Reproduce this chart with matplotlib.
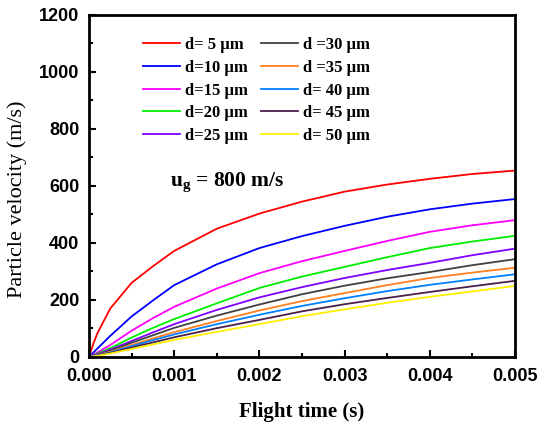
import matplotlib
matplotlib.use("Agg")
import matplotlib.pyplot as plt
from matplotlib.ticker import MultipleLocator, FormatStrFormatter

plt.rcParams['mathtext.fontset'] = 'custom'
plt.rcParams['mathtext.rm'] = 'Liberation Serif:bold'
plt.rcParams['mathtext.it'] = 'Liberation Serif:bold'
plt.rcParams['mathtext.bf'] = 'Liberation Serif:bold'

time_s = [0, 0.00005, 0.0001, 0.00025, 0.0005, 0.00075, 0.001, 0.0015, 0.002, 0.0025, 0.003, 0.0035, 0.004, 0.0045, 0.005]

v_5 = [0, 46, 84, 170, 260, 318, 372, 450, 503, 545, 580, 605, 625, 642, 654]
v_10 = [0, 15, 30, 74, 142, 198, 252, 325, 382, 424, 460, 492, 518, 538, 554]
v_15 = [0, 8, 16, 42, 92, 136, 176, 240, 294, 336, 372, 407, 439, 462, 480]
v_20 = [0, 6, 12, 31, 68, 102, 133, 188, 242, 282, 316, 350, 382, 405, 425]
v_25 = [0, 5, 10, 26, 56, 86, 115, 165, 209, 245, 277, 305, 330, 357, 380]
v_30 = [0, 4, 8, 22, 50, 76, 102, 145, 184, 220, 250, 276, 298, 322, 343]
v_35 = [0, 3, 7, 18, 42, 65, 87, 126, 163, 196, 224, 252, 277, 296, 313]
v_40 = [0, 3, 6, 16, 38, 59, 79, 115, 148, 179, 206, 231, 253, 272, 290]
v_45 = [0, 2, 5, 14, 33, 51, 69, 101, 130, 160, 185, 207, 228, 248, 267]
v_50 = [0, 2, 4, 12, 28, 44, 60, 88, 115, 143, 167, 190, 211, 230, 249]

series = [v_5, v_10, v_15, v_20, v_25, v_30, v_35, v_40, v_45, v_50]
labels = ["d= 5 μm", "d=10 μm", "d=15 μm", "d=20 μm", "d=25 μm",
          "d =30 μm", "d =35 μm", "d= 40 μm", "d= 45 μm", "d= 50 μm"]
colors = ["#ff0000", "#0000ff", "#ff00ff", "#00ee00", "#8000ff",
          "#404040", "#ff8020", "#0080ff", "#4a1f4a", "#ffee00"]

fig = plt.figure(figsize=(5.38, 4.28), dpi=100)
ax = fig.add_axes([0.1654, 0.166, 0.7916, 0.799])

for v, lab, c in zip(series, labels, colors):
    ax.plot(time_s, v, color=c, lw=1.3, label=lab)

ax.set_xlim(0, 0.005)
ax.set_ylim(0, 1200)
ax.xaxis.set_major_locator(MultipleLocator(0.001))
ax.xaxis.set_minor_locator(MultipleLocator(0.0005))
ax.yaxis.set_major_locator(MultipleLocator(200))
ax.yaxis.set_minor_locator(MultipleLocator(100))
ax.xaxis.set_major_formatter(FormatStrFormatter('%.3f'))
ax.tick_params(which='both', direction='in', top=False, right=False, width=1.5)
ax.tick_params(which='major', length=5, labelsize=13)
ax.tick_params(which='minor', length=3)
ax.tick_params(axis='x', which='major', pad=8)
ax.tick_params(axis='y', which='major', pad=7)
for lbl in ax.get_xticklabels() + ax.get_yticklabels():
    lbl.set_fontfamily('Liberation Sans')
    lbl.set_fontweight('bold')
for s in ax.spines.values():
    s.set_linewidth(2)

ax.set_xlabel("Flight time (s)", fontfamily='Liberation Serif', fontweight='bold', fontsize=15, labelpad=12)
ax.set_ylabel("Particle velocity (m/s)", fontfamily='Liberation Serif', fontsize=16, labelpad=4)
ax.yaxis.set_label_coords(-0.145, 0.46)

leg = ax.legend(ncol=2, loc='upper left', bbox_to_anchor=(0.127, 0.935), frameon=False,
                prop={'family': 'Liberation Serif', 'weight': 'bold', 'size': 12},
                handlelength=2.2, columnspacing=0.8, labelspacing=0.4, handletextpad=0.3,
                borderpad=0, borderaxespad=0)

ax.text(0.19, 0.512, r"$\mathrm{u_g}$ = 800 m/s", transform=ax.transAxes,
        fontfamily='Liberation Serif', fontweight='bold', fontsize=15.5, va='center')

fig.savefig("out.png", dpi=100)
